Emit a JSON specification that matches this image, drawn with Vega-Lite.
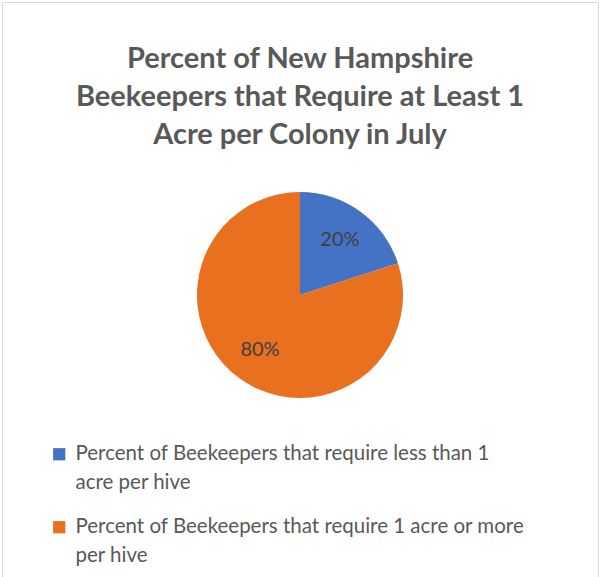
{
  "$schema": "https://vega.github.io/schema/vega-lite/v6.json",
  "width": 596,
  "height": 586,
  "padding": {"left": 2, "top": 2, "right": 2, "bottom": 0},
  "background": "white",
  "view": {"stroke": "#D9D9D9", "strokeWidth": 1, "fill": "white"},
  "title": {
    "text": ["Percent of New Hampshire", "Beekeepers that Require at Least 1", "Acre per Colony in July"],
    "font": "Lato",
    "fontSize": 29,
    "fontWeight": "bold",
    "color": "#595959",
    "lineHeight": 38,
    "anchor": "middle",
    "frame": "group",
    "offset": -148
  },
  "data": {
    "values": [
      {"category": "Percent of Beekeepers that require less than 1 acre per hive", "value": 20, "order": 1, "label": "20%"},
      {"category": "Percent of Beekeepers that require 1 acre or more per hive", "value": 80, "order": 2, "label": "80%"}
    ]
  },
  "encoding": {
    "theta": {"field": "value", "type": "quantitative", "stack": true},
    "order": {"field": "order", "type": "quantitative"},
    "color": {
      "field": "category",
      "type": "nominal",
      "scale": {
        "domain": ["Percent of Beekeepers that require less than 1 acre per hive", "Percent of Beekeepers that require 1 acre or more per hive"],
        "range": ["#4472C4", "#E8701E"]
      },
      "legend": {
        "title": null,
        "orient": "none",
        "legendX": 47,
        "legendY": 442,
        "direction": "vertical",
        "padding": 0,
        "symbolType": "square",
        "symbolSize": 150,
        "symbolStrokeWidth": 0,
        "labelFont": "Lato",
        "labelFontSize": 20.5,
        "labelColor": "#595959",
        "labelLimit": 600,
        "labelOffset": 6,
        "rowPadding": 23,
        "labelExpr": "datum.label == 'Percent of Beekeepers that require less than 1 acre per hive' ? ['Percent of Beekeepers that require less than 1', 'acre per hive'] : ['Percent of Beekeepers that require 1 acre or more', 'per hive']",
        "encode": {
          "labels": {"update": {"lineHeight": {"value": 29}}}
        }
      }
    }
  },
  "layer": [
    {"mark": {"type": "arc", "outerRadius": 103}},
    {
      "mark": {"type": "text", "radius": 68, "font": "Lato", "fontSize": 20, "color": "#404040"},
      "encoding": {"text": {"field": "label", "type": "nominal"}, "color": {"value": "#404040"}}
    }
  ]
}
